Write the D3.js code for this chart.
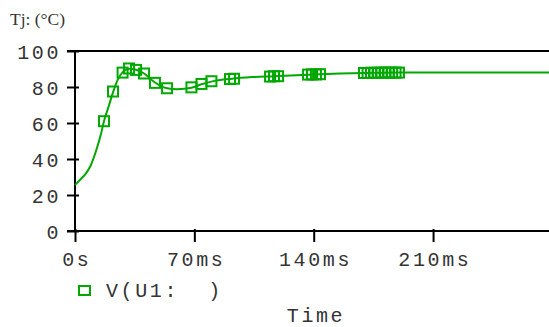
<!DOCTYPE html>
<html>
<head>
<meta charset="utf-8">
<script src="https://cdn.jsdelivr.net/npm/d3@7"></script>
<style>
  html, body { margin: 0; padding: 0; background: #fff; overflow: hidden; }
  svg { display: block; }
  .mono { font-family: "Liberation Mono", "Courier New", monospace; fill: #333; }
</style>
</head>
<body>
<svg id="chart" width="549" height="327"></svg>
<script>
// ---- data ----
const lineTime  = [0, 3, 6, 9, 12, 15, 17, 20, 22.3, 25, 28, 31.7, 35.8, 40.5, 46.9, 54, 60, 68.3, 74.2, 80, 92, 104, 116.7, 140, 170, 190, 278];
const lineValue = [25.5, 28.5, 31.5, 36, 43.5, 53, 61, 70, 77, 84, 88.3, 90.2, 89.6, 87.5, 82.5, 79.3, 78.8, 79.6, 81.5, 83, 84.6, 85.5, 86, 87, 87.8, 88, 88.1];
const markerTime  = [17, 22.3, 27.9, 31.7, 35.8, 40.5, 46.9, 54, 68.3, 74.2, 80, 90.9, 93.3, 114.4, 116.7, 119.1, 136.7, 139, 141.3, 143.7,
                     169.5, 171.6, 173.6, 175.7, 177.7, 179.8, 181.9, 183.9, 186, 188, 190];
const markerValue = [61, 77.5, 88, 90.3, 89.5, 87.5, 82.3, 79.3, 79.8, 81.7, 83.2, 84.4, 84.6, 85.8, 86, 86, 86.9, 87, 87, 87.1,
                     87.8, 87.8, 87.9, 87.9, 87.9, 88, 88, 88, 88, 88, 88];
const xTickValues = [0, 70, 140, 210];
const xTickLabels = ["0s", "70ms", "140ms", "210ms"];
const yTickValues = [0, 20, 40, 60, 80, 100];
const yAxisTitle = "Tj: (°C)";
const xAxisTitle = "Time";
const legendLabel = "V(U1:  )";

// ---- layout ----
const svg = d3.select("#chart");
const pL = 75, pR = 549, pT = 51, pB = 231;
const green = "#00a800";

const x = d3.scaleLinear().domain([0, 278]).range([pL, pR]);
const y = d3.scaleLinear().domain([0, 100]).range([pB, pT]);

// top border
svg.append("line").attr("x1", pL - 8).attr("x2", pR).attr("y1", pT).attr("y2", pT)
  .attr("stroke", "#000").attr("stroke-width", 2);

// y axis
const yAxis = svg.append("g").attr("transform", `translate(${pL},0)`)
  .call(d3.axisLeft(y).tickValues(yTickValues).tickSize(8).tickPadding(6).tickFormat(d3.format("d")));
yAxis.select(".domain").remove();
yAxis.append("line").attr("x1", 0).attr("x2", 0).attr("y1", pT).attr("y2", pB)
  .attr("stroke", "#000").attr("stroke-width", 2);
yAxis.selectAll(".tick line").attr("x1", 4).attr("x2", -8).attr("stroke", "#000").attr("stroke-width", 2);
yAxis.selectAll(".tick text").attr("class", "mono").attr("x", -14)
  .style("font-size", "20px").style("letter-spacing", "2.6px").attr("dy", "0.36em");

// x axis
const xAxis = svg.append("g").attr("transform", `translate(0,${pB})`)
  .call(d3.axisBottom(x).tickValues(xTickValues).tickSize(10).tickPadding(8)
    .tickFormat((d, i) => xTickLabels[i]));
xAxis.select(".domain").remove();
xAxis.append("line").attr("x1", pL - 8).attr("x2", pR).attr("y1", 0).attr("y2", 0)
  .attr("stroke", "#000").attr("stroke-width", 2);
xAxis.selectAll(".tick line").attr("y1", -2).attr("y2", 11).attr("stroke", "#000").attr("stroke-width", 2);
xAxis.selectAll(".tick text").attr("class", "mono").attr("y", 35).attr("dy", 0)
  .attr("dx", "1.3px")
  .style("font-size", "20px").style("letter-spacing", "2.6px");

// line
svg.append("path")
  .datum(lineTime.map((t, i) => [t, lineValue[i]]))
  .attr("fill", "none").attr("stroke", green).attr("stroke-width", 2)
  .attr("d", d3.line().x(d => x(d[0])).y(d => y(d[1])).curve(d3.curveMonotoneX));

// markers
const ms = 10;
svg.append("g").selectAll("rect")
  .data(markerTime.map((t, i) => [t, markerValue[i]]))
  .join("rect")
  .attr("x", d => x(d[0]) - ms / 2).attr("y", d => y(d[1]) - ms / 2)
  .attr("width", ms).attr("height", ms)
  .attr("fill", "none").attr("stroke", green).attr("stroke-width", 2);

// y title
svg.append("text").attr("x", 10).attr("y", 25)
  .style("font-family", "'Liberation Serif', 'Times New Roman', serif").style("font-size", "17.5px")
  .attr("fill", "#333").text(yAxisTitle);

// legend
svg.append("rect").attr("x", 79).attr("y", 286).attr("width", 11).attr("height", 9)
  .attr("fill", "none").attr("stroke", green).attr("stroke-width", 2);
svg.append("text").attr("class", "mono").attr("x", 106).attr("y", 297)
  .attr("xml:space", "preserve").style("white-space", "pre")
  .style("font-size", "20px").style("letter-spacing", "2.6px").text(legendLabel);

// x title
svg.append("text").attr("class", "mono").attr("x", 316).attr("y", 322).attr("text-anchor", "middle")
  .style("font-size", "20px").style("letter-spacing", "2.6px").text(xAxisTitle);
</script>
</body>
</html>
